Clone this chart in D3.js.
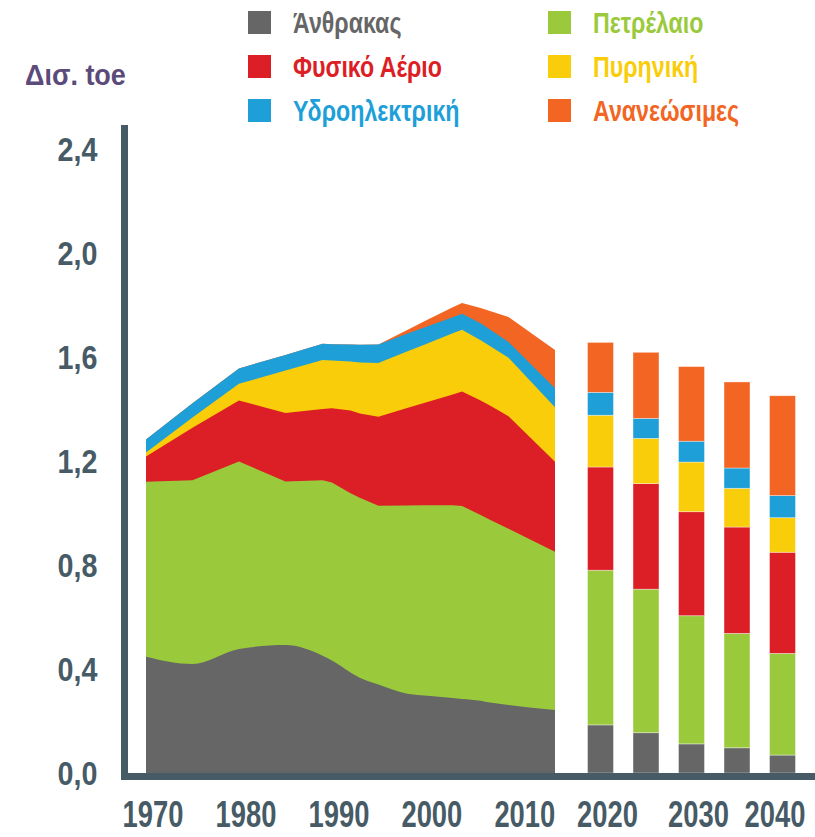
<!DOCTYPE html>
<html>
<head>
<meta charset="utf-8">
<script src="https://cdn.jsdelivr.net/npm/d3@7"></script>
<style>
  body { margin: 0; background: #fff; }
  svg text { font-family: "Liberation Sans", Arial, sans-serif; }
</style>
</head>
<body>
<div id="chart"></div>
<script>
// historical values (Gtoe)
var years   = [1970, 1975, 1980, 1985, 1989, 1990, 1992, 1993, 1995, 1998, 2000, 2003, 2004, 2006, 2007, 2009, 2014];
var coal    = [0.447, 0.419, 0.477, 0.492, 0.451, 0.433, 0.387, 0.366, 0.340, 0.306, 0.298, 0.288, 0.285, 0.278, 0.271, 0.262, 0.242];
var oil     = [0.673, 0.707, 0.721, 0.629, 0.675, 0.684, 0.689, 0.693, 0.688, 0.723, 0.732, 0.742, 0.742, 0.714, 0.703, 0.677, 0.609];
var gas     = [0.097, 0.202, 0.235, 0.264, 0.274, 0.286, 0.318, 0.324, 0.342, 0.374, 0.394, 0.426, 0.440, 0.441, 0.439, 0.433, 0.346];
var nuclear = [0.016, 0.039, 0.064, 0.163, 0.188, 0.184, 0.189, 0.196, 0.207, 0.217, 0.224, 0.235, 0.238, 0.231, 0.229, 0.225, 0.210];
var hydro   = [0.050, 0.055, 0.059, 0.060, 0.063, 0.062, 0.065, 0.068, 0.071, 0.068, 0.066, 0.062, 0.061, 0.066, 0.064, 0.061, 0.073];
var renew   = [0, 0, 0, 0, 0, 0, 0, 0, 0, 0.014, 0.024, 0.038, 0.042, 0.058, 0.071, 0.096, 0.147];

// projections
var projYears   = [2020, 2025, 2030, 2035, 2040];
var projCoal    = [0.185, 0.155, 0.112, 0.097, 0.069];
var projOil     = [0.595, 0.552, 0.493, 0.440, 0.391];
var projGas     = [0.397, 0.406, 0.400, 0.409, 0.389];
var projNuclear = [0.199, 0.174, 0.191, 0.149, 0.133];
var projHydro   = [0.088, 0.077, 0.080, 0.078, 0.085];
var projRenew   = [0.192, 0.254, 0.287, 0.331, 0.384];

var keys   = ["coal", "oil", "gas", "nuclear", "hydro", "renew"];
var labels = ["Άνθρακας", "Πετρέλαιο", "Φυσικό Αέριο", "Πυρηνική", "Υδροηλεκτρική", "Ανανεώσιμες"];
var colors = ["#666666", "#9aca3c", "#dc1f26", "#f9cd0a", "#1e9fd8", "#f26522"];

var yTicks = [0, 0.4, 0.8, 1.2, 1.6, 2.0, 2.4];
var xTicks = [1970, 1980, 1990, 2000, 2010, 2020, 2030, 2040];

var W = 815, H = 837;
var axisColor = "#475b66";

var svg = d3.select("#chart").append("svg")
    .attr("width", W)
    .attr("height", H);

var y = d3.scaleLinear().domain([0, 2.4]).range([773, 149]);
// history and projections are laid out on different spacing
var x = d3.scaleLinear().domain([1970, 2014, 2020, 2040]).range([146, 555, 600.5, 782.5]);

var color = d3.scaleOrdinal().domain(keys).range(colors);

// no condensed font installed, so squeeze the glyphs
function condense(sel, f) {
  sel.each(function() {
    var w = this.getComputedTextLength();
    d3.select(this).attr("textLength", w * f).attr("lengthAdjust", "spacingAndGlyphs");
  });
}

// build rows for the stack
var histRows = years.map(function(yr, i) {
  return {year: yr, coal: coal[i], oil: oil[i], gas: gas[i], nuclear: nuclear[i], hydro: hydro[i], renew: renew[i]};
});
var projRows = projYears.map(function(yr, i) {
  return {year: yr, coal: projCoal[i], oil: projOil[i], gas: projGas[i], nuclear: projNuclear[i], hydro: projHydro[i], renew: projRenew[i]};
});

var stack = d3.stack().keys(keys);
var histStack = stack(histRows);
var projStack = stack(projRows);

// each layer filled from 0 to its cumulative top, top layer first,
// so coal can have its own smooth edge
histStack.slice().reverse().forEach(function(layer) {
  var area = d3.area()
      .x(function(d) { return x(d.data.year); })
      .y0(y(0))
      .y1(function(d) { return y(d[1]); })
      .curve(layer.key == "coal" ? d3.curveMonotoneX : d3.curveLinear);
  svg.append("path")
     .datum(layer)
     .attr("fill", color(layer.key))
     .attr("d", area);
});

// projection bars
var barW = (x(2025) - x(2020)) * 0.57;
svg.selectAll("g.bars")
   .data(projStack)
   .enter().append("g")
   .attr("fill", function(d) { return color(d.key); })
   .selectAll("rect")
   .data(function(d) { return d; })
   .enter().append("rect")
   .attr("x", function(d) { return x(d.data.year) - barW / 2; })
   .attr("y", function(d) { return y(d[1]); })
   .attr("width", barW)
   .attr("height", function(d) { return y(d[0]) - y(d[1]); })
   .attr("stroke", "rgba(255,255,255,0.45)")
   .attr("stroke-width", 0.8);

// axis lines
svg.append("line")
   .attr("x1", 124.5).attr("x2", 124.5)
   .attr("y1", y(2.4) - 24).attr("y2", y(0) + 7)
   .attr("stroke", axisColor).attr("stroke-width", 7);
svg.append("line")
   .attr("x1", 121).attr("x2", W)
   .attr("y1", y(0) + 3.5).attr("y2", y(0) + 3.5)
   .attr("stroke", axisColor).attr("stroke-width", 7);

// y ticks, greek decimal comma
var grLocale = d3.formatLocale({decimal: ",", thousands: ".", grouping: [3], currency: ["", "€"]});
var yAxis = d3.axisLeft(y)
    .tickValues(yTicks)
    .tickSize(0)
    .tickPadding(27)
    .tickFormat(grLocale.format(".1f"));

var gy = svg.append("g")
    .attr("transform", "translate(124.5,1)")
    .call(yAxis);
gy.select(".domain").remove();
gy.selectAll("text")
  .attr("fill", axisColor)
  .style("font-size", "33px")
  .style("font-weight", "bold")
  .style("font-family", "'Liberation Sans', sans-serif");
condense(gy.selectAll("text"), 0.87);

// x tick labels, squeezed horizontally with a scale transform
svg.selectAll("g.xlab")
   .data(xTicks)
   .enter().append("g")
   .attr("class", "xlab")
   .attr("transform", function(d) {
     return "translate(" + Math.min(x(d) + 7, W - 40) + ",827) scale(0.74,1)";
   })
   .append("text")
   .attr("text-anchor", "middle")
   .attr("fill", axisColor)
   .style("font-size", "37px")
   .style("font-weight", "bold")
   .text(function(d) { return d; });

// unit title
var title = svg.append("text")
   .attr("x", 25)
   .attr("y", 85)
   .attr("fill", "#5b4a7a")
   .style("font-size", "30px")
   .style("font-weight", "bold")
   .text("Δισ. toe");
condense(title, 0.9);

// legend, two columns
var legend = svg.selectAll("g.leg")
    .data(keys)
    .enter().append("g")
    .attr("class", "leg")
    .attr("transform", function(d, i) {
      var col = i % 2, row = Math.floor(i / 2);
      return "translate(" + (248 + col * 300) + "," + (11 + row * 44) + ")";
    });

legend.append("rect")
    .attr("width", 23)
    .attr("height", 23)
    .attr("fill", function(d) { return color(d); });

var legText = legend.append("text")
    .attr("x", 45)
    .attr("y", 22)
    .attr("fill", function(d) { return color(d); })
    .style("font-size", "29px")
    .style("font-weight", "bold")
    .text(function(d, i) { return labels[i]; });
condense(legText, 0.8);
</script>
</body>
</html>
